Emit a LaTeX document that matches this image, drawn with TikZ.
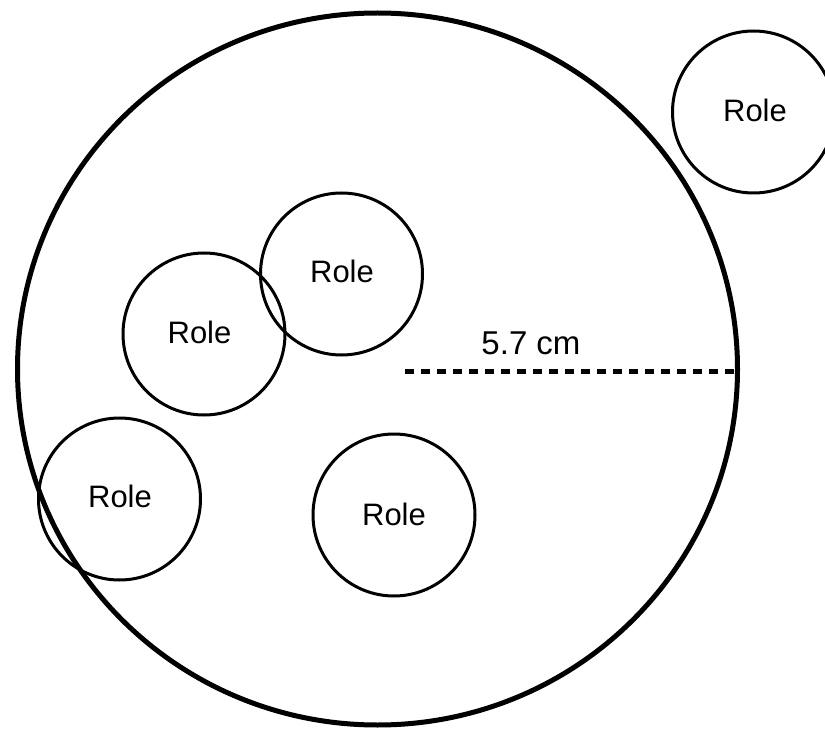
\documentclass[tikz,border=0pt]{standalone}
\usepackage{fontspec}
\setmainfont{Liberation Sans}
\usetikzlibrary{shapes.geometric}
\begin{document}
\begin{tikzpicture}[x=1pt,y=-1pt,
  team/.style={draw=black, line width=5pt, ellipse, inner sep=0pt,
    minimum width=720pt, minimum height=712pt},
  role/.style={draw=black, line width=3pt, circle, inner sep=0pt,
    minimum size=162pt},
  rolelabel/.style={inner sep=0pt, font=\fontsize{31}{36}\selectfont},
  radius line/.style={line width=5pt, dash pattern=on 9pt off 7pt}]
  \useasboundingbox (0,0) rectangle (825,730);
  \fill[white] (0,0) rectangle (825,730);

  % the enclosing team circle
  \node[team] (team) at (377.5,369) {};

  % roles
  \node[role] (r1) at (341.5,274) {};
  \node[role] (r2) at (204,334) {};
  \node[role] (r3) at (119.5,499) {};
  \node[role] (r4) at (394,515) {};
  \node[role] (r5) at (753.5,112) {};

  \node[rolelabel] (t1) at (342,271) {Role};
  \node[rolelabel] (t2) at (199.5,332) {Role};
  \node[rolelabel] (t3) at (120,496) {Role};
  \node[rolelabel] (t4) at (394,514) {Role};
  \node[rolelabel] (t5) at (755,110) {Role};

  % radius marker
  \coordinate (rad0) at (405,371);
  \draw[radius line] (rad0) -- (rad0 -| team.east);
  \node[inner sep=0pt, font=\fontsize{33}{38}\selectfont] (radlabel) at (531,343) {5.7 cm};
\end{tikzpicture}
\end{document}
